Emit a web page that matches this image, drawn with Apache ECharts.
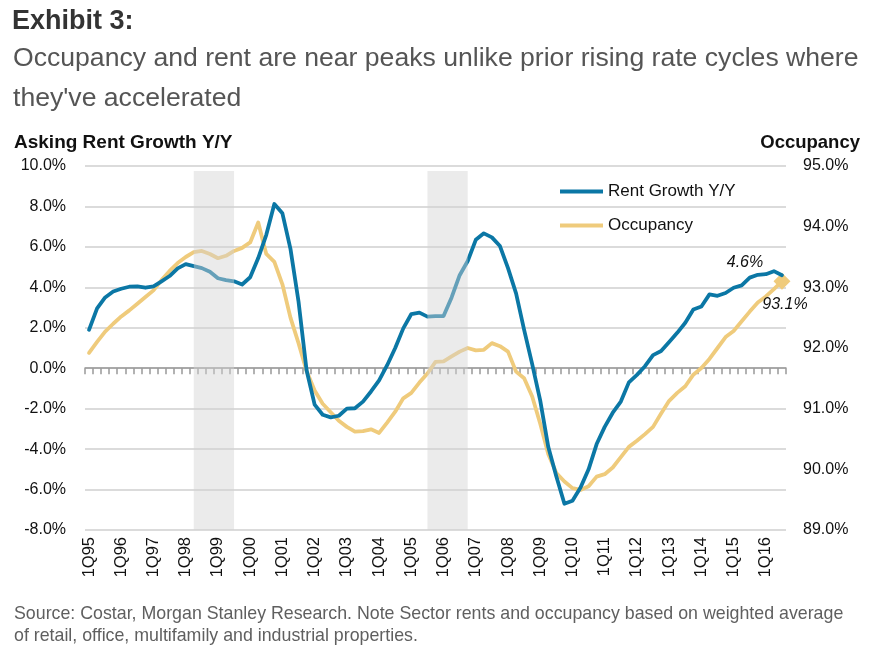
<!DOCTYPE html>
<html><head><meta charset="utf-8">
<script src="https://cdn.jsdelivr.net/npm/echarts@6/dist/echarts.min.js"></script>
<style>html,body{margin:0;padding:0;background:#fff}#c{width:875px;height:652px}</style>
</head><body><div id="c"></div>
<script>
const categories = [
'1Q95','2Q95','3Q95','4Q95','1Q96','2Q96','3Q96','4Q96','1Q97','2Q97','3Q97','4Q97',
'1Q98','2Q98','3Q98','4Q98','1Q99','2Q99','3Q99','4Q99','1Q00','2Q00','3Q00','4Q00',
'1Q01','2Q01','3Q01','4Q01','1Q02','2Q02','3Q02','4Q02','1Q03','2Q03','3Q03','4Q03',
'1Q04','2Q04','3Q04','4Q04','1Q05','2Q05','3Q05','4Q05','1Q06','2Q06','3Q06','4Q06',
'1Q07','2Q07','3Q07','4Q07','1Q08','2Q08','3Q08','4Q08','1Q09','2Q09','3Q09','4Q09',
'1Q10','2Q10','3Q10','4Q10','1Q11','2Q11','3Q11','4Q11','1Q12','2Q12','3Q12','4Q12',
'1Q13','2Q13','3Q13','4Q13','1Q14','2Q14','3Q14','4Q14','1Q15','2Q15','3Q15','4Q15',
'1Q16','2Q16','3Q16'];

const rentGrowth = [
1.9,2.96,3.5,3.79,3.93,4.03,4.05,3.98,4.05,4.3,4.56,4.94,
5.15,5.05,4.95,4.77,4.45,4.36,4.3,4.14,4.5,5.45,6.6,8.12,
7.66,5.9,3.3,-0.1,-1.8,-2.3,-2.43,-2.35,-2.0,-1.98,-1.65,-1.15,
-0.6,0.15,1.0,1.97,2.68,2.75,2.55,2.58,2.58,3.5,4.6,5.3,
6.35,6.67,6.47,6.04,4.95,3.7,1.9,0.2,-1.6,-3.9,-5.35,-6.7,
-6.55,-5.9,-5.0,-3.75,-2.9,-2.2,-1.65,-0.7,-0.33,0.1,0.65,0.85,
1.3,1.75,2.25,2.9,3.05,3.65,3.58,3.72,3.98,4.1,4.48,4.62,
4.65,4.8,4.6];

const occupancy = [
91.92,92.1,92.27,92.4,92.52,92.62,92.73,92.84,92.95,93.12,93.27,93.4,
93.5,93.58,93.6,93.55,93.48,93.52,93.6,93.65,93.74,94.07,93.55,93.42,
93.05,92.5,92.08,91.62,91.3,91.08,90.94,90.8,90.7,90.62,90.63,90.66,
90.6,90.77,90.95,91.17,91.26,91.43,91.58,91.77,91.78,91.86,91.94,92.0,
91.96,91.97,92.08,92.03,91.94,91.61,91.5,91.2,90.75,90.25,89.94,89.8,
89.69,89.66,89.72,89.88,89.92,90.03,90.2,90.37,90.47,90.58,90.7,90.92,
91.13,91.26,91.37,91.56,91.67,91.82,92.0,92.18,92.28,92.44,92.6,92.75,
92.85,92.97,93.1];

const rateHikeCycles = [['2Q98','3Q99'],['3Q05','4Q06']];
const leftAxis = {min:-8, max:10, interval:2};
const rightAxis = {min:89, max:95, interval:1};

const BLUE = '#0b77a5';
const TAN = '#efcb7c';
const FONT = '"Liberation Sans", Arial, sans-serif';
const last = categories.length - 1;

const rentData = rentGrowth.map((v,i)=> i===last ? {
  value:v,
  label:{show:true, position:'top', offset:[-37,0], formatter: p=>p.value.toFixed(1)+'%',
    fontSize:16, fontStyle:'italic', color:'#111', fontFamily:FONT}
} : v);
const occData = occupancy.map((v,i)=> i===last ? {
  value:v, symbol:'diamond', symbolSize:17, itemStyle:{color:TAN},
  label:{show:true, position:'bottom', offset:[3,2], formatter: p=>p.value.toFixed(1)+'%',
    fontSize:16, fontStyle:'italic', color:'#111', fontFamily:FONT}
} : v);

const chart = echarts.init(document.getElementById('c'), null, {renderer:'canvas'});
chart.setOption({
  animation:false,
  textStyle:{fontFamily:FONT},
  title:[
    {text:'Exhibit 3:', left:12, top:8, padding:0, textStyle:{fontSize:27, fontWeight:'bold', color:'#333', fontFamily:FONT}},
    {text:"Occupancy and rent are near peaks unlike prior rising rate cycles where\nthey've accelerated",
      left:13, top:39, padding:0, textStyle:{fontSize:26.6, fontWeight:'normal', color:'#555', lineHeight:40, fontFamily:FONT}},
    {text:'Asking Rent Growth Y/Y', left:14, top:133, padding:0, textStyle:{fontSize:19, fontWeight:'bold', color:'#111', fontFamily:FONT}},
    {text:'Occupancy', right:15, top:133, padding:0, textStyle:{fontSize:18.5, fontWeight:'bold', color:'#111', fontFamily:FONT}},
    {text:'Source: Costar, Morgan Stanley Research. Note Sector rents and occupancy based on weighted average\nof retail, office, multifamily and industrial properties.',
      left:14, top:603, padding:0, textStyle:{fontSize:17.8, fontWeight:'normal', color:'#5f5f5f', lineHeight:22, fontFamily:FONT}}
  ],
  legend:{
    data:['Rent Growth Y/Y','Occupancy'], orient:'vertical', left:560, top:183, padding:0,
    icon:'rect', itemWidth:43, itemHeight:4, itemGap:17, selectedMode:false,
    textStyle:{fontSize:17, color:'#111', fontFamily:FONT}
  },
  grid:{left:85, right:89, top:166, bottom:122},
  xAxis:[
    {type:'category', data:categories, boundaryGap:true, position:'bottom',
      axisLine:{show:false, onZero:false}, axisTick:{show:false},
      axisLabel:{rotate:90, interval:3, fontSize:16.5, color:'#111', margin:7, fontFamily:FONT},
      splitLine:{show:false}},
    {type:'category', data:categories, boundaryGap:true, position:'top',
      axisLine:{show:true, onZero:true, onZeroAxisIndex:0, lineStyle:{color:'#999', width:1.5}},
      axisTick:{show:true, inside:true, interval:0, length:6, lineStyle:{color:'#999', width:1.5}},
      axisLabel:{show:false}, splitLine:{show:false}}
  ],
  yAxis:[
    {type:'value', min:leftAxis.min, max:leftAxis.max, interval:leftAxis.interval, position:'left',
      axisLine:{show:false}, axisTick:{show:false},
      axisLabel:{formatter:v=>v.toFixed(1)+'%', fontSize:16, color:'#111', margin:19, fontFamily:FONT},
      splitLine:{show:true, lineStyle:{color:'#cfcfcf', width:1.5}}},
    {type:'value', min:rightAxis.min, max:rightAxis.max, interval:rightAxis.interval, position:'right',
      axisLine:{show:false}, axisTick:{show:false},
      axisLabel:{formatter:v=>v.toFixed(1)+'%', fontSize:16, color:'#111', margin:17, fontFamily:FONT},
      splitLine:{show:false}}
  ],
  series:[
    {name:'Rent Growth Y/Y', type:'line', xAxisIndex:0, yAxisIndex:0, data:rentData,
      symbol:'circle', symbolSize:0.01, showSymbol:true, showAllSymbol:true,
      lineStyle:{color:BLUE, width:3.8, cap:'round', join:'round'}, itemStyle:{color:BLUE}, z:3},
    {name:'Occupancy', type:'line', xAxisIndex:0, yAxisIndex:1, data:occData,
      symbol:'circle', symbolSize:0.01, showSymbol:true, showAllSymbol:true,
      lineStyle:{color:TAN, width:3.8, cap:'round', join:'round'}, itemStyle:{color:TAN}, z:2},
    {name:'cycles', type:'line', xAxisIndex:0, yAxisIndex:0, data:[], z:10, silent:true,
      markArea:{silent:true, z:10, itemStyle:{color:'rgba(210,210,210,0.45)'},
        data: rateHikeCycles.map(c=>[{xAxis:c[0], yAxis:9.75},{xAxis:c[1], yAxis:-8.1}])}}
  ]
});
</script>
</body></html>
